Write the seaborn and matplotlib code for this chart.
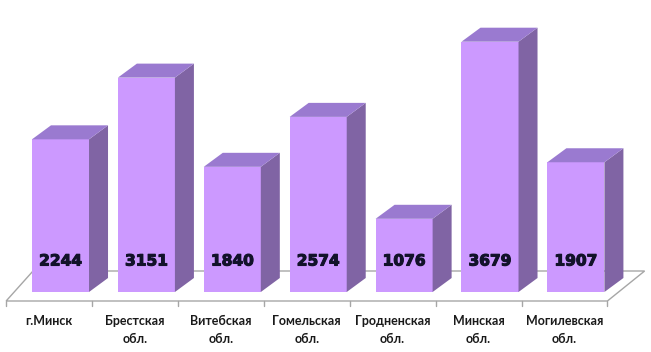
import numpy as np
import pandas as pd
import matplotlib
matplotlib.use('Agg')
import matplotlib.pyplot as plt
import matplotlib.patheffects as pe
from matplotlib.patches import Polygon
import seaborn as sns

regions = ['г.Минск', 'Брестская', 'Витебская', 'Гомельская',
           'Гродненская', 'Минская', 'Могилевская']
region_suffix = ['', 'обл.', 'обл.', 'обл.', 'обл.', 'обл.', 'обл.']
values = [2244, 3151, 1840, 2574, 1076, 3679, 1907]

front = '#CC99FF'
side = '#8064A4'
top = '#9A7AD0'

sns.set_style('white')

W, H = 651, 352
fig = plt.figure(figsize=(W / 100, H / 100), dpi=100)
ax = fig.add_axes([0, 0, 1, 1])

# pixel scales (px per data unit)
sx = 85.9
sy = 250.3 / 3679
xmin = -60.5 / sx
ymin = -60 / sy

df = pd.DataFrame({'region': regions, 'value': values})
sns.barplot(data=df, x='region', y='value', width=0.664, color=front,
            saturation=1, ax=ax, zorder=3, linewidth=0)
ax.set_xlim(xmin, xmin + W / sx)
ax.set_ylim(ymin, ymin + H / sy)
ax.axis('off')

# depth of the 3d bars
dx = 19 / sx
dy = 14 / sy

for p in ax.patches:
    x0 = p.get_x()
    x1 = x0 + p.get_width()
    h = p.get_height()
    ax.add_patch(Polygon([(x1, 0), (x1 + dx, dy), (x1 + dx, h + dy), (x1, h)],
                         closed=True, fc=side, ec='none', zorder=3))
    ax.add_patch(Polygon([(x0, h), (x1, h), (x1 + dx, h + dy), (x0 + dx, h + dy)],
                         closed=True, fc=top, ec='none', zorder=3))

# floor
f_front = -9 / sy
f_back = 21 / sy
shift = -0.133
floor = [(-0.5 + shift, f_front), (6.5 + shift, f_front),
         (6.80, f_back), (-0.32, f_back)]
ax.add_patch(Polygon(floor, closed=True, fc='white', ec='#A6A6A6', lw=1, zorder=1))
for k in range(8):
    xt = -0.5 + shift + k
    ax.plot([xt, xt], [f_front, f_front - 5 / sy], color='#A6A6A6', lw=1, zorder=1)

# value labels
for i, v in enumerate(values):
    ax.text(i, 31 / sy, str(v), ha='center', va='center', fontsize=11.1,
            fontweight='bold', family='DejaVu Sans', color='#12122a', zorder=5,
            path_effects=[pe.withStroke(linewidth=0.8, foreground='#12122a')])

# category labels
for i, (a, b) in enumerate(zip(regions, region_suffix)):
    ax.text(i + shift, -29 / sy, a, ha='center', va='center', fontsize=9,
            fontweight='bold', family='Lato', color='#1a1a1a')
    if b:
        ax.text(i + shift, -47 / sy, b, ha='center', va='center', fontsize=9,
                fontweight='bold', family='Lato', color='#1a1a1a')

fig.savefig('out.png', dpi=100)
